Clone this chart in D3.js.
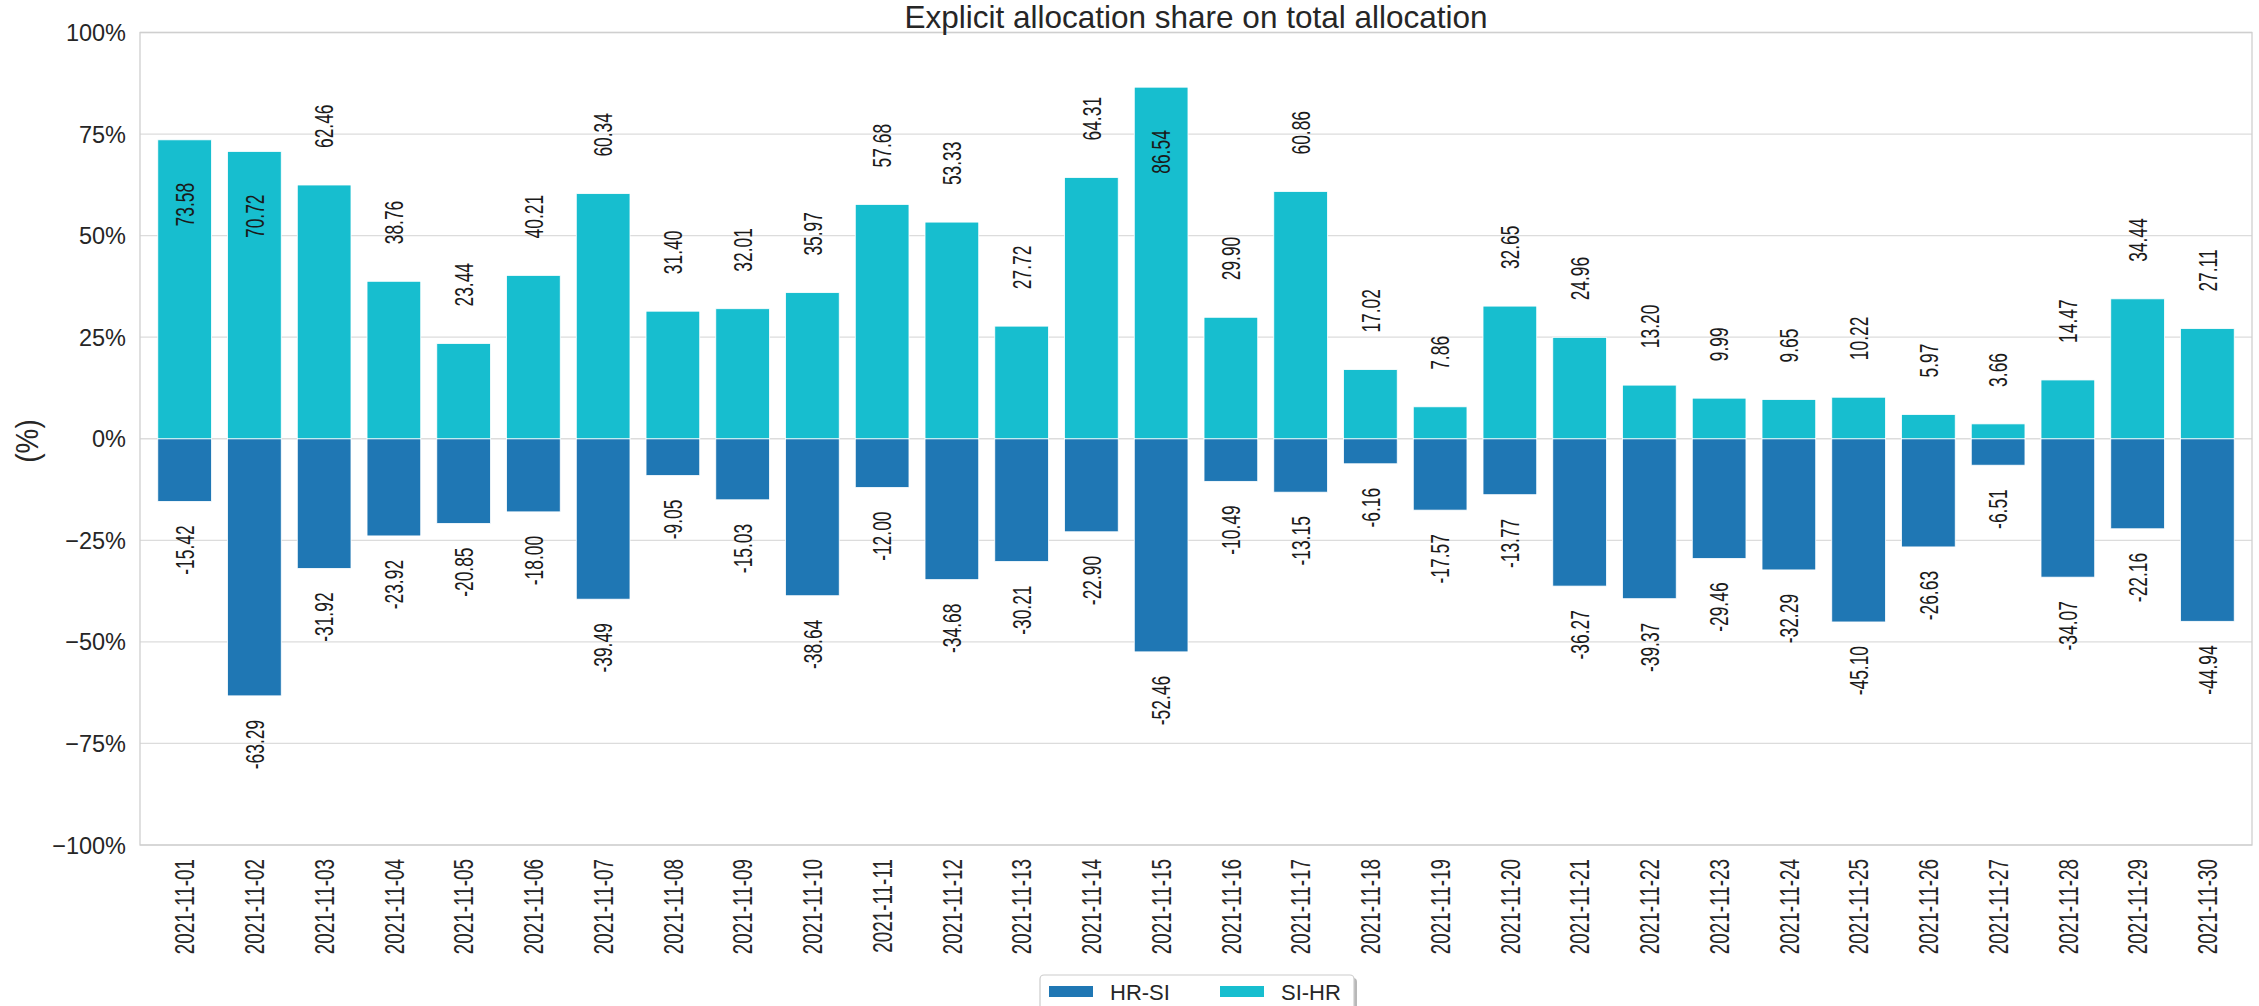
<!DOCTYPE html>
<html>
<head>
<meta charset="utf-8">
<script src="https://cdn.jsdelivr.net/npm/d3@7"></script>
<style>
  html, body { margin: 0; padding: 0; background: #ffffff; }
  svg { display: block; }
  text { font-family: "Liberation Sans", Arial, "DejaVu Sans", sans-serif; }
</style>
</head>
<body>
<svg id="chart" width="2259" height="1006"></svg>
<script>
const dates = ["2021-11-01","2021-11-02","2021-11-03","2021-11-04","2021-11-05","2021-11-06","2021-11-07","2021-11-08","2021-11-09","2021-11-10","2021-11-11","2021-11-12","2021-11-13","2021-11-14","2021-11-15","2021-11-16","2021-11-17","2021-11-18","2021-11-19","2021-11-20","2021-11-21","2021-11-22","2021-11-23","2021-11-24","2021-11-25","2021-11-26","2021-11-27","2021-11-28","2021-11-29","2021-11-30"];
const siHr = [73.58,70.72,62.46,38.76,23.44,40.21,60.34,31.40,32.01,35.97,57.68,53.33,27.72,64.31,86.54,29.90,60.86,17.02,7.86,32.65,24.96,13.20,9.99,9.65,10.22,5.97,3.66,14.47,34.44,27.11];
const hrSi = [-15.42,-63.29,-31.92,-23.92,-20.85,-18.00,-39.49,-9.05,-15.03,-38.64,-12.00,-34.68,-30.21,-22.90,-52.46,-10.49,-13.15,-6.16,-17.57,-13.77,-36.27,-39.37,-29.46,-32.29,-45.10,-26.63,-6.51,-34.07,-22.16,-44.94];
const seriesNames = ["HR-SI", "SI-HR"];
const seriesColors = ["#1f77b4", "#17becf"];
const yTicks = [-100, -75, -50, -25, 0, 25, 50, 75, 100];
const title = "Explicit allocation share on total allocation";
const yLabel = "(%)";

const svg = d3.select("#chart");
const L = 140, R = 2252, T = 32.5, B = 845;

const x = d3.scaleBand().domain(dates).range([L, R]).paddingInner(0.23).paddingOuter(0.255);
const y = d3.scaleLinear().domain([-100, 100]).range([B, T]);

// grid
svg.append("g").selectAll("line").data(yTicks).join("line")
  .attr("x1", L).attr("x2", R)
  .attr("y1", d => y(d)).attr("y2", d => y(d))
  .attr("stroke", "#dcdcdc").attr("stroke-width", 1.3);

// frame
svg.append("rect").attr("x", L).attr("y", T).attr("width", R - L).attr("height", B - T)
  .attr("fill", "none").attr("stroke", "#cfcfcf").attr("stroke-width", 1.3);

// bars
const rows = dates.map((d, i) => ({ date: d, neg: hrSi[i], pos: siHr[i] }));
const gBars = svg.append("g");
gBars.selectAll("rect.neg").data(rows).join("rect").attr("class", "neg")
  .attr("x", d => x(d.date)).attr("width", x.bandwidth())
  .attr("y", y(0)).attr("height", d => y(d.neg) - y(0))
  .attr("fill", seriesColors[0]).attr("stroke", "#ffffff").attr("stroke-width", 0.8);
gBars.selectAll("rect.pos").data(rows).join("rect").attr("class", "pos")
  .attr("x", d => x(d.date)).attr("width", x.bandwidth())
  .attr("y", d => y(d.pos)).attr("height", d => y(0) - y(d.pos))
  .attr("fill", seriesColors[1]).attr("stroke", "#ffffff").attr("stroke-width", 0.8);

// value labels (rotated, condensed)
const vfs = 26, vsx = 0.67;
const gLab = svg.append("g").attr("fill", "#1a1a1a").style("font-size", vfs + "px");
rows.forEach(d => {
  const cx = x(d.date) + x.bandwidth() / 2 + 0.358 * vfs;
  let py, anchor;
  if (d.pos > 65) { py = y(d.pos) + 43; anchor = "end"; }
  else { py = y(d.pos) - 37; anchor = "start"; }
  gLab.append("text").attr("text-anchor", anchor)
    .attr("transform", `translate(${cx},${py}) rotate(-90) scale(${vsx},1)`)
    .text(d.pos.toFixed(2));
  gLab.append("text").attr("text-anchor", "end")
    .attr("transform", `translate(${cx},${y(d.neg) + 24}) rotate(-90) scale(${vsx},1)`)
    .text(d.neg.toFixed(2));
});

// y tick labels
svg.append("g").selectAll("text").data(yTicks).join("text")
  .attr("x", 126).attr("y", d => y(d) + 8.5)
  .attr("text-anchor", "end").attr("fill", "#262626").style("font-size", "23.5px")
  .text(d => (d < 0 ? "\u2212" + Math.abs(d) : d) + "%");

// x tick labels
const xfs = 27, xsx = 0.70;
svg.append("g").selectAll("text").data(dates).join("text")
  .attr("text-anchor", "end").attr("fill", "#262626").style("font-size", xfs + "px")
  .attr("transform", d => `translate(${x(d) + x.bandwidth() / 2 + 0.358 * xfs},859) rotate(-90) scale(${xsx},1)`)
  .text(d => d);

// y label
svg.append("text").attr("text-anchor", "middle").attr("fill", "#262626").style("font-size", "31px")
  .attr("transform", `translate(38,441) rotate(-90) scale(0.9,1)`)
  .text(yLabel);

// title
svg.append("text").attr("x", (L + R) / 2).attr("y", 28).attr("text-anchor", "middle")
  .attr("fill", "#262626").style("font-size", "31.5px").text(title);

// legend
const lg = svg.append("g");
lg.append("rect").attr("x", 1043).attr("y", 978).attr("width", 314).attr("height", 50).attr("rx", 4)
  .attr("fill", "#888").attr("opacity", 0.6);
lg.append("rect").attr("x", 1040).attr("y", 975).attr("width", 314).attr("height", 50).attr("rx", 4)
  .attr("fill", "#ffffff").attr("stroke", "#cccccc").attr("stroke-width", 1.2);
const legX = [1049, 1220];
seriesNames.forEach((n, i) => {
  lg.append("rect").attr("x", legX[i]).attr("y", 986).attr("width", 44).attr("height", 11)
    .attr("fill", seriesColors[i]);
  lg.append("text").attr("x", legX[i] + 61).attr("y", 1000).attr("fill", "#262626")
    .style("font-size", "22px").text(n);
});
</script>
</body>
</html>
